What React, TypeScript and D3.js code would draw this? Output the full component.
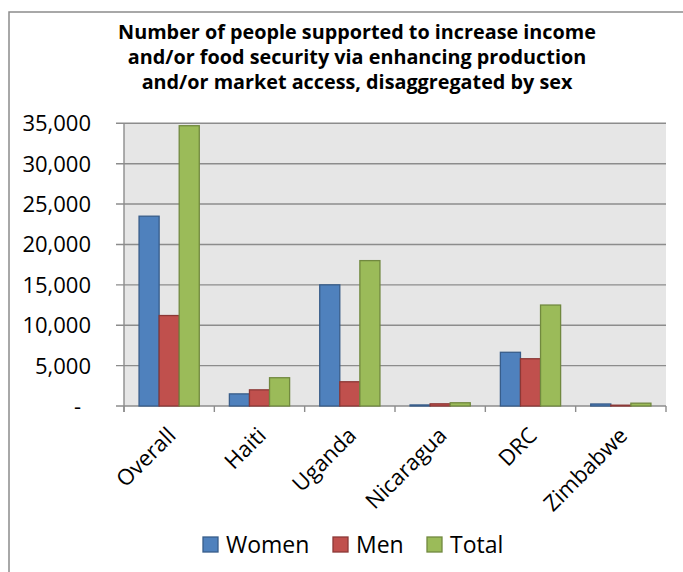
import React from "react";
import * as d3 from "d3";

const categories = ["Overall", "Haiti", "Uganda", "Nicaragua", "DRC", "Zimbabwe"];
const women = [23500, 1500, 15000, 130, 6650, 250];
const men = [11200, 2000, 3000, 270, 5850, 100];
const total = [34700, 3500, 18000, 400, 12500, 350];
const seriesNames = ["Women", "Men", "Total"];
const yTicks = [0, 5000, 10000, 15000, 20000, 25000, 30000, 35000];
const titleLines = [
  "Number of people supported to increase income",
  "and/or food security via enhancing production",
  "and/or market access, disaggregated by sex",
];

const fills = ["#4F81BD", "#C0504D", "#9BBB59"];
const strokes = ["#385D8A", "#8C3836", "#71893F"];

const W = 683, H = 572;
const plot = { left: 124, right: 666, top: 123.3, bottom: 406 };
const FONT = "'Open Sans', 'Noto Sans', sans-serif";

export default function App() {
  const x = d3.scaleBand<string>().domain(categories).range([plot.left, plot.right]).paddingInner(0).paddingOuter(0);
  const bw = x.bandwidth();
  const inner = d3.scaleBand<string>().domain(seriesNames).range([bw * 0.75 / 4.5, bw - bw * 0.75 / 4.5]).padding(0);
  const y = d3.scaleLinear().domain([0, 35000]).range([plot.bottom, plot.top]);
  const data = [women, men, total];
  const fmt = (v: number) => (v === 0 ? "-" : d3.format(",")(v));
  const boundaries = d3.range(categories.length + 1).map((i) => plot.left + i * bw);

  return (
    <svg width={W} height={H} style={{ position: "absolute", left: 0, top: 0 }} fontFamily={FONT}>
      <rect x={0} y={0} width={W} height={H} fill="#fff" />
      <path d={`M9,${H + 5} V12 H${W + 5}`} fill="none" stroke="#8C8C8C" strokeWidth={1.5} />
      {titleLines.map((t, i) => (
        <text key={i} x={357} y={38.5 + i * 25} textAnchor="middle" fontSize={19.8} fontWeight="bold" fill="#000">
          {t}
        </text>
      ))}
      <rect x={plot.left} y={plot.top} width={plot.right - plot.left} height={plot.bottom - plot.top} fill="#E6E6E6" />
      {yTicks.map((t) => (
        <g key={t}>
          <line x1={116} x2={plot.right} y1={y(t)} y2={y(t)} stroke="#8C8C8C" strokeWidth={1.4} />
          <text x={t === 0 ? 81 : 91} y={y(t)} dy="0.36em" textAnchor="end" fontSize={22} fill="#000">
            {fmt(t)}
          </text>
        </g>
      ))}
      <line x1={plot.left} x2={plot.left} y1={plot.top} y2={plot.bottom + 6} stroke="#8C8C8C" strokeWidth={1.4} />
      {boundaries.map((bx, i) => (
        <line key={i} x1={bx} x2={bx} y1={plot.bottom} y2={plot.bottom + 6} stroke="#8C8C8C" strokeWidth={1.4} />
      ))}
      {categories.map((c, ci) =>
        seriesNames.map((s, si) => {
          const v = data[si][ci];
          const bx = (x(c) as number) + (inner(s) as number);
          return (
            <rect key={c + s} x={bx} y={y(v)} width={inner.bandwidth()} height={plot.bottom - y(v)}
              fill={fills[si]} stroke={strokes[si]} strokeWidth={1.3} />
          );
        })
      )}
      {categories.map((c) => {
        const cx = (x(c) as number) + bw / 2;
        return (
          <text key={c} transform={`translate(${cx - 3},${plot.bottom + 20}) rotate(-45)`} textAnchor="end"
            dy="0.7em" fontSize={22} fill="#000">
            {c}
          </text>
        );
      })}
      {seriesNames.map((s, i) => {
        const lx = [203, 333, 427][i];
        return (
          <g key={s}>
            <rect x={lx} y={537} width={15} height={15} fill={fills[i]} stroke={strokes[i]} strokeWidth={1.3} />
            <text x={lx + 23} y={552.5} fontSize={23} fill="#000">{s}</text>
          </g>
        );
      })}
    </svg>
  );
}
